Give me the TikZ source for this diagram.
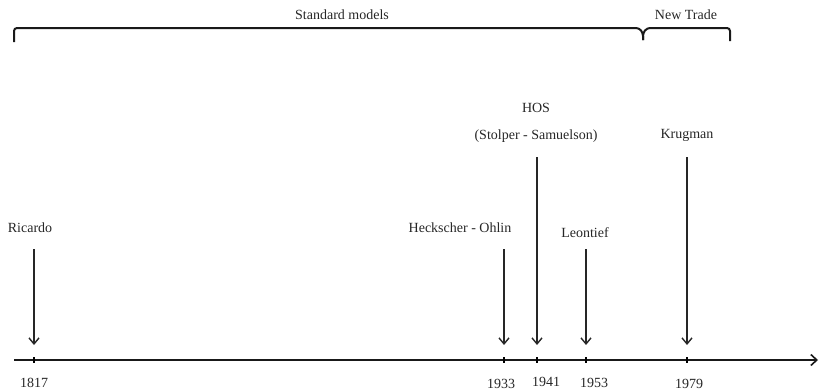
\documentclass[tikz,border=0pt]{standalone}
\usepackage{fontspec}
\setmainfont{Liberation Serif}
\usetikzlibrary{arrows.meta}
\begin{document}
\begin{tikzpicture}[x=1pt,y=-1pt,
  lab/.style={font=\fontsize{14}{16}\selectfont, inner sep=0pt, text=black!85},
  yr/.style={font=\fontsize{14}{16}\selectfont, inner sep=0pt, text=black!85},
  evarrow/.style={draw=black!85, line width=1.4pt, -{Straight Barb[length=6pt,width=10pt,line width=1.4pt]}},
  axisline/.style={draw=black!90, line width=1.8pt, -{Straight Barb[length=6pt,width=11pt,line width=1.6pt]}},
  bracket/.style={draw=black!90, line width=2pt, rounded corners=3pt}]
\useasboundingbox (0,0) rectangle (820,391);
% axis
\coordinate (a0) at (14,360);
\coordinate (a1) at (818,360);
\draw[axisline] (a0) -- (a1);
% ticks
\foreach \n/\x in {t1817/34, t1933/504, t1941/537, t1953/586, t1979/687}{
  \coordinate (\n) at (\x,360);
  \draw[black, line width=2.2pt] (\x,357) -- (\x,363);
}
% years
\node[yr] (y1817) at (34,383) {1817};
\node[yr] (y1933) at (501,384) {1933};
\node[yr] (y1941) at (546,382) {1941};
\node[yr] (y1953) at (594,383) {1953};
\node[yr] (y1979) at (689,384) {1979};
% event labels
\node[lab] (ric) at (30,228) {Ricardo};
\node[lab] (ho) at (460,228) {Heckscher - Ohlin};
\node[lab] (leo) at (585,233) {Leontief};
\node[lab] (hos) at (536,108) {HOS};
\node[lab] (ss) at (536,136) {(Stolper - Samuelson)};
\node[lab] (kru) at (687,135) {Krugman};
% arrow start points
\coordinate (s1) at (34,249);
\coordinate (s2) at (504,249);
\coordinate (s3) at (537,157);
\coordinate (s4) at (586,249);
\coordinate (s5) at (687,157);
\coordinate (e1) at (34,345);
\coordinate (e2) at (504,345);
\coordinate (e3) at (537,345);
\coordinate (e4) at (586,345);
\coordinate (e5) at (687,345);
\draw[evarrow] (s1) -- (e1);
\draw[evarrow] (s2) -- (e2);
\draw[evarrow] (s3) -- (e3);
\draw[evarrow] (s4) -- (e4);
\draw[evarrow] (s5) -- (e5);
% brackets
\node[lab] (std) at (342,15) {Standard models};
\node[lab] (nt) at (686,15) {New Trade};
\coordinate (b0) at (14,42);
\coordinate (b1) at (643,40);
\coordinate (b2) at (730,41);
\draw[bracket] (b0) -- (14,28) -- (639,28) -- (643,33) -- (b1);
\draw[bracket] (b1) -- (643,33) -- (647,28) -- (730,28) -- (b2);
\end{tikzpicture}
\end{document}
